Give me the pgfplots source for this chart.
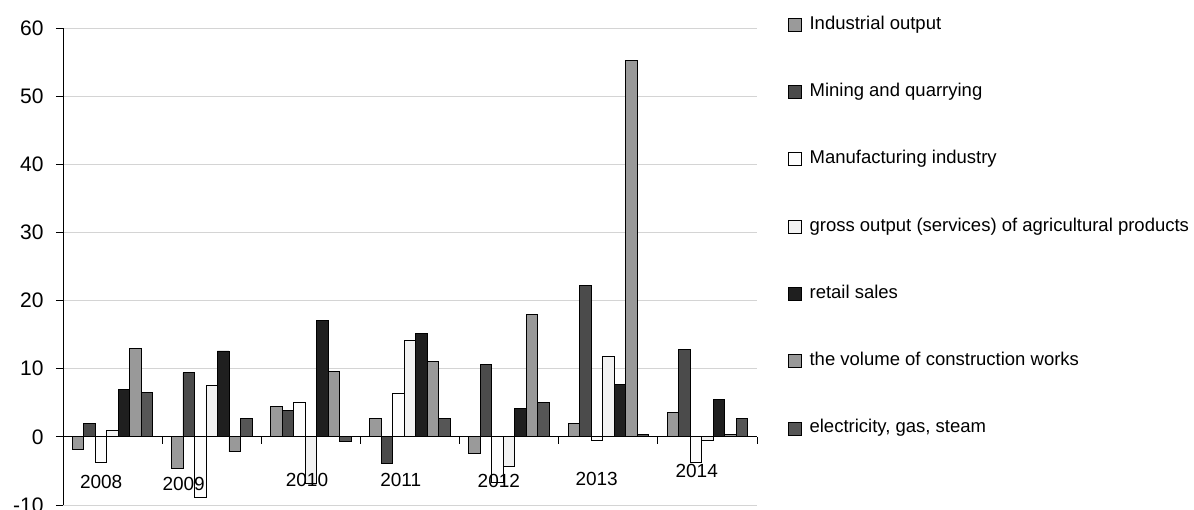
\documentclass[border=0pt]{standalone}
\usepackage{pgfplots}
\pgfplotsset{compat=1.18}
\usepackage{pgfplotstable}
\usepackage{fontspec}
\setmainfont{Liberation Sans}
\definecolor{cInd}{HTML}{9A9A9A}
\definecolor{cMin}{HTML}{4B4B4B}
\definecolor{cMan}{HTML}{FDFDFD}
\definecolor{cAgr}{HTML}{F2F2F2}
\definecolor{cRet}{HTML}{1F1F1F}
\definecolor{cCon}{HTML}{999999}
\definecolor{cEle}{HTML}{565656}
\definecolor{gridc}{HTML}{D4D4D4}
\pgfplotstableread{
x ind min man agr ret con ele
0 -1.9 2.0 -3.8 1.0 7.0 13.0 6.5
1 -4.6 9.4 -8.9 7.5 12.6 -2.2 2.7
2 4.4 3.9 5.1 -6.8 17.1 9.6 -0.7
3 2.7 -3.9 6.3 14.2 15.2 11.1 2.7
4 -2.4 10.6 -6.7 -4.3 4.1 18.0 5.1
5 2.0 22.2 -0.5 11.8 7.7 55.2 0.3
6 3.6 12.8 -3.8 -0.5 5.5 0.4 2.7
}\datatable
\pgfplotsset{
  mybar/.style={fill=#1, draw=black, line width=0.9pt,
    legend image code/.code={\draw[fill=#1, draw=black, line width=0.8pt] (0pt,-6.5pt) rectangle (13pt,6.5pt);
      \path[draw=none, fill=none] (0pt,0pt) -- (19pt,0pt);}},
}
\newcommand{\xfont}{\fontsize{19}{22}\selectfont}
\begin{document}
\begin{tikzpicture}
\begin{axis}[
  name=ax,
  scale only axis,
  width=694pt, height=477pt,
  xmin=-0.5, xmax=6.5,
  ymin=-10, ymax=60,
  ybar=0pt, bar width=11.5pt,
  axis x line*=middle,
  axis y line*=left,
  x axis line style={-, line width=0.9pt, black},
  y axis line style={-, line width=0.9pt, black},
  tick align=outside,
  major tick length=7pt,
  tick style={line width=0.9pt, black},
  xtick={-0.5,0.5,1.5,2.5,3.5,4.5,5.5,6.5},
  xticklabels={},
  ytick={-10,0,10,20,30,40,50,60},
  yticklabels={-10,0,10,20,30,40,50,60},
  ymajorgrids,
  grid style={gridc, line width=0.9pt},
  yticklabel style={font=\fontsize{21}{24}\selectfont, xshift=-9pt},
  legend style={at={(1,1)}, anchor=north west, xshift=31pt, yshift=14pt,
    draw=none, fill=none, inner sep=0pt,
    font=\fontsize{18.5}{22}\selectfont,
    row sep=46.3pt,
    nodes={text height=13pt, text depth=4pt, inner sep=2pt}},
  legend cell align=left,
]
\addplot[mybar=cInd] table[x=x,y=ind]{\datatable};
\addplot[mybar=cMin] table[x=x,y=min]{\datatable};
\addplot[mybar=cMan] table[x=x,y=man]{\datatable};
\addplot[mybar=cAgr] table[x=x,y=agr]{\datatable};
\addplot[mybar=cRet] table[x=x,y=ret]{\datatable};
\addplot[mybar=cCon] table[x=x,y=con]{\datatable};
\addplot[mybar=cEle] table[x=x,y=ele]{\datatable};
\legend{Industrial output, Mining and quarrying, Manufacturing industry, gross output (services) of agricultural products, retail sales, the volume of construction works, {electricity, gas, steam}}
\node[font=\xfont, inner sep=0pt] at (axis cs:-0.115,-6.6) {2008};
\node[font=\xfont, inner sep=0pt] at (axis cs:0.717,-6.9) {2009};
\node[font=\xfont, inner sep=0pt] at (axis cs:1.961,-6.35) {2010};
\node[font=\xfont, inner sep=0pt] at (axis cs:2.907,-6.35) {2011};
\node[font=\xfont, inner sep=0pt] at (axis cs:3.896,-6.5) {2012};
\node[font=\xfont, inner sep=0pt] at (axis cs:4.883,-6.2) {2013};
\node[font=\xfont, inner sep=0pt] at (axis cs:5.892,-5.0) {2014};
\end{axis}
\pgfresetboundingbox
\path[use as bounding box] ([xshift=-63pt,yshift=-5pt]ax.south west) rectangle ([xshift=437pt,yshift=28pt]ax.north east);
\end{tikzpicture}
\end{document}
